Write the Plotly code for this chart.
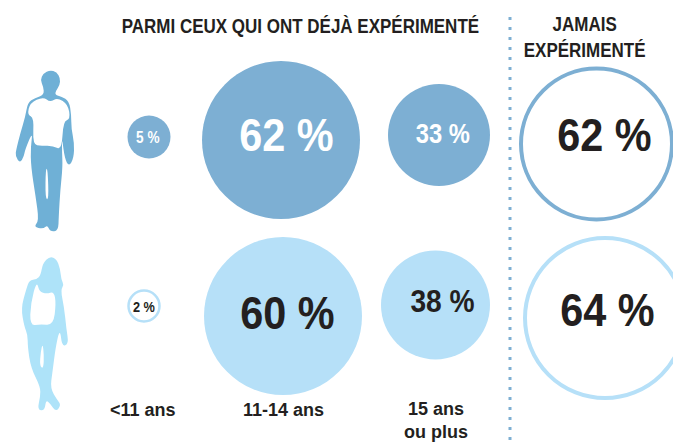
import plotly.graph_objects as go

# ---- data ----
age_groups = ["<11 ans", "11-14 ans", "15 ans<br>ou plus"]
men_values = [5, 62, 33]
women_values = [2, 60, 38]
never_values = [62, 64]
title_tried = "PARMI CEUX QUI ONT DÉJÀ EXPÉRIMENTÉ"
title_never = "JAMAIS<br>EXPÉRIMENTÉ"

# ---- geometry & style (pixel-based axes) ----
W, H = 673, 442
BLUE = "#7dafd3"
LIGHT = "#b6e0f8"
MAN = "#6fb0d6"
WOMAN = "#aee3f9"
INK = "#231f20"
FONT = "Liberation Sans, Arial, sans-serif"

men_x, men_y, men_d = [149, 281, 439], [137, 140, 135], [43, 158, 102]
women_x, women_y, women_d = [144, 283, 435.5], [306, 316, 305], [31, 158, 109]
never_x, never_y, never_d = [596.5, 605], [144, 318], [151, 160]
men_lx, men_ly, men_fs = [148, 286.5, 443], [137, 135, 134], [16, 46, 27]
women_lx, women_ly, women_fs = [144, 287.5, 442.5], [306, 313, 301], [15, 46, 32]
never_lx, never_ly, never_fs = [604, 607.5], [135, 310], [46, 46]
age_lx, age_ly = [143, 283, 436], [410, 410, 420]


def path(pts, ox, oy):
    """Illustration outline measured on a 3x crop, with softened corners."""
    p = [(ox + x / 3, oy + y / 3) for x, y in pts]
    n = len(p)
    mid = lambda a, b: ((a[0] + b[0]) / 2, (a[1] + b[1]) / 2)
    s = mid(p[-1], p[0])
    d = f"M{s[0]:.1f},{s[1]:.1f}"
    for i in range(n):
        m = mid(p[i], p[(i + 1) % n])
        d += f" Q{p[i][0]:.1f},{p[i][1]:.1f} {m[0]:.1f},{m[1]:.1f}"
    return d + " Z"


man_body = [(150, 60), (170, 66), (181, 85), (179, 106), (168, 122), (165, 135), (185, 140), (207, 153),
            (214, 195), (214, 235), (223, 280), (221, 325), (207, 350), (194, 325), (186, 262), (186, 300),
            (188, 350), (181, 420), (176, 500), (175, 543), (150, 545), (142, 525), (130, 537), (101, 531),
            (117, 512), (107, 440), (93, 350), (92, 290), (98, 245), (75, 300), (72, 318), (60, 340),
            (46, 318), (49, 298), (61, 250), (76, 200), (83, 158), (105, 144), (132, 135), (130, 110),
            (121, 90), (130, 70)]
man_gap = [(137, 355), (143, 358), (146, 450), (136, 445)]
man_shirt = [(130, 140), (150, 157), (172, 143), (204, 163), (211, 208), (190, 213), (185, 300),
             (160, 288), (125, 287), (98, 284), (102, 203), (82, 195), (90, 158)]

woman_body = [(150, 48), (170, 58), (180, 85), (184, 120), (192, 135), (182, 150), (192, 200), (199, 265),
              (206, 312), (186, 320), (180, 265), (167, 320), (157, 400), (151, 445), (172, 480), (183, 495),
              (168, 516), (150, 490), (138, 480), (134, 512), (112, 510), (121, 470), (121, 440), (93, 385),
              (83, 320), (83, 285), (73, 260), (63, 205), (78, 150), (88, 120), (110, 118), (122, 105),
              (128, 70)]
woman_gap = [(128, 310), (132, 345), (130, 387), (119, 377), (122, 335)]
woman_top = [(110, 122), (118, 155), (140, 161), (162, 155), (168, 190), (160, 256), (120, 253), (90, 257),
             (92, 190)]

shapes = [
    dict(type="path", path=path(man_body, 0, 50), fillcolor=MAN, line_width=0, layer="below"),
    dict(type="path", path=path(man_gap, 0, 50), fillcolor="white", line_width=0, layer="below"),
    dict(type="path", path=path(man_shirt, 0, 50), fillcolor="white", line_width=0, layer="below"),
    dict(type="path", path=path(woman_body, 0, 240), fillcolor=WOMAN, line_width=0, layer="below"),
    dict(type="path", path=path(woman_gap, 0, 240), fillcolor="white", line_width=0, layer="below"),
    dict(type="path", path=path(woman_top, 0, 240), fillcolor="white", line_width=0, layer="below"),
    dict(type="line", x0=510, x1=510, y0=17, y1=442, line=dict(color=BLUE, width=3, dash="3px,7px")),
]

fig = go.Figure()
fig.add_trace(go.Scatter(x=men_x, y=men_y, mode="markers", hoverinfo="skip",
                         customdata=men_values,
                         marker=dict(size=men_d, sizemode="diameter", color=BLUE, opacity=1, line_width=0)))
# the 2 % bubble is outlined, the two others are filled
fig.add_trace(go.Scatter(x=women_x[1:], y=women_y[1:], mode="markers", hoverinfo="skip",
                         customdata=women_values[1:],
                         marker=dict(size=women_d[1:], color=LIGHT, opacity=1, line_width=0)))
fig.add_trace(go.Scatter(x=women_x[:1], y=women_y[:1], mode="markers", hoverinfo="skip",
                         customdata=women_values[:1],
                         marker=dict(size=women_d[:1], color="white", opacity=1,
                                     line=dict(color=LIGHT, width=2.5))))
fig.add_trace(go.Scatter(x=never_x[:1], y=never_y[:1], mode="markers", hoverinfo="skip",
                         customdata=never_values[:1], cliponaxis=False,
                         marker=dict(size=never_d[:1], color="white", opacity=1,
                                     line=dict(color=BLUE, width=4))))
fig.add_trace(go.Scatter(x=never_x[1:], y=never_y[1:], mode="markers", hoverinfo="skip",
                         customdata=never_values[1:], cliponaxis=False,
                         marker=dict(size=never_d[1:], color="white", opacity=1,
                                     line=dict(color=LIGHT, width=4))))

ann = []


def label(x, y, text, size, color=INK):
    ann.append(dict(x=x, y=y, text=f"<b>{text}</b>", showarrow=False, align="center",
                    xanchor="center", yanchor="middle",
                    font=dict(family=FONT, size=size, color=color)))


for v, x, y, s in zip(men_values, men_lx, men_ly, men_fs):
    label(x, y, f"{v} %", s, "white")
for v, x, y, s in zip(women_values, women_lx, women_ly, women_fs):
    label(x, y, f"{v} %", s)
for v, x, y, s in zip(never_values, never_lx, never_ly, never_fs):
    label(x, y, f"{v} %", s)
for t, x, y in zip(age_groups, age_lx, age_ly):
    label(x, y, t, 18)
label(300, 26, title_tried, 20)
label(584.5, 37, title_never, 20)

fig.update_layout(
    width=W, height=H, margin=dict(l=0, r=0, t=0, b=0), showlegend=False,
    paper_bgcolor="white", plot_bgcolor="white", shapes=shapes, annotations=ann,
    xaxis=dict(range=[0, W], visible=False, fixedrange=True),
    yaxis=dict(range=[H, 0], visible=False, fixedrange=True),
)

# No page margin, and horizontally condensed lettering like the newspaper face.
post = """
document.documentElement.style.margin = '0';
document.documentElement.style.overflow = 'hidden';
document.body.style.margin = '0';
document.body.style.overflow = 'hidden';
function condense() {
  document.querySelectorAll('.annotation-text').forEach(function (t) {
    var fs = parseFloat(t.style.fontSize);
    var k = fs >= 40 ? 0.9 : (fs >= 25 ? 0.88 : (fs >= 19 ? 0.85 : (fs >= 18 ? 1.0 : 0.85)));
    t.removeAttribute('transform');
    var b = t.getBBox();
    var c = b.x + b.width / 2;
    t.setAttribute('transform', 'translate(' + c + ',0) scale(' + k + ',1) translate(' + (-c) + ',0)');
  });
}
var gd = document.getElementsByClassName('plotly-graph-div')[0];
gd.on('plotly_afterplot', condense);
setTimeout(condense, 0);
setTimeout(condense, 200);
"""
fig.write_html("out.html", config={"displayModeBar": False}, post_script=post)
